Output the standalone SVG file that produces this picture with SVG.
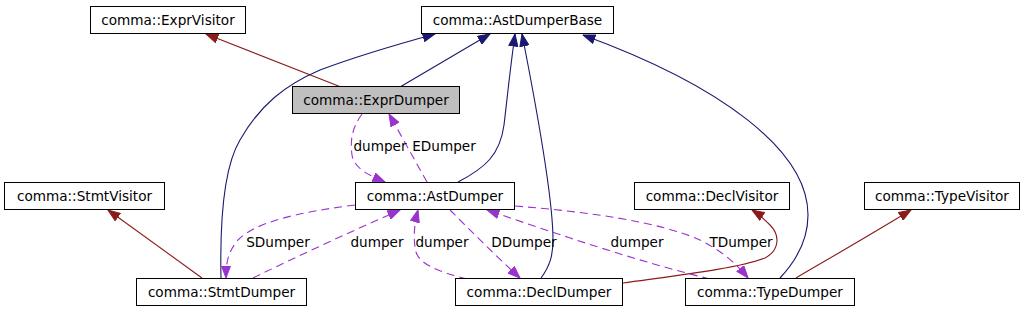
<svg xmlns="http://www.w3.org/2000/svg" width="1024" height="312" viewBox="0 0 1024 312">
<style>
.node rect{fill:#ffffff;stroke:#000000;stroke-width:1}
.node.cur rect{fill:#bfbfbf}
text{font-family:"DejaVu Sans","Liberation Sans",sans-serif;font-size:13.6px;fill:#000000;text-anchor:middle}
.e{fill:none;stroke-width:1.1}
.pub{stroke:#191970;marker-end:url(#aPub)}
.prv{stroke:#8b1a1a;marker-end:url(#aPrv)}
.use{stroke:#9a32cd;stroke-dasharray:8,5;marker-end:url(#aUse)}
</style>
<defs>
<marker id="aPub" markerUnits="userSpaceOnUse" markerWidth="13" markerHeight="10" viewBox="0 0 13 10" refX="12.5" refY="5" orient="auto"><path d="M0.5,0.5 L12.5,5 L0.5,9.5 z" fill="#191970" stroke="#191970"/></marker>
<marker id="aPrv" markerUnits="userSpaceOnUse" markerWidth="13" markerHeight="10" viewBox="0 0 13 10" refX="12.5" refY="5" orient="auto"><path d="M0.5,0.5 L12.5,5 L0.5,9.5 z" fill="#8b1a1a" stroke="#8b1a1a"/></marker>
<marker id="aUse" markerUnits="userSpaceOnUse" markerWidth="13" markerHeight="10" viewBox="0 0 13 10" refX="12.5" refY="5" orient="auto"><path d="M0.5,0.5 L12.5,5 L0.5,9.5 z" fill="#9a32cd" stroke="#9a32cd"/></marker>
</defs>
<rect width="1024" height="312" fill="#ffffff"/>
<g id="edges">
<path class="e prv" d="M341,87 L206,34"/>
<path class="e pub" d="M400,87 L490,34"/>
<path class="e pub" d="M221,278 C220,230 222,170 240,140 C260,105 285,85 320,70 C360,55 395,45 435,34"/>
<path class="e pub" d="M458,182 C485,168 500,155 504,125 C507,100 510,70 515,34"/>
<path class="e pub" d="M541,278 C550,266 553,255 553,240 C553,200 537,110 522,34"/>
<path class="e pub" d="M780,278 C795,262 808,240 808,215 C808,150 720,85 583,35"/>
<path class="e prv" d="M202,278 L108,210"/>
<path class="e prv" d="M623,283 C680,275 740,268 765,258 C780,250 780,235 770,225 C765,220 760,215 752,210"/>
<path class="e prv" d="M796,278 C830,258 870,235 911,210"/>
<path class="e use" d="M362,114 C352,128 350,140 352,155 C354,168 368,175 385,182"/>
<path class="e use" d="M427,182 L389,114"/>
<path class="e use" d="M355,205 C300,212 255,222 238,240 C228,252 226,262 226,278"/>
<path class="e use" d="M253,278 C300,255 350,232 400,210"/>
<path class="e use" d="M467,279 C440,272 420,265 416,252 C413,240 414,225 418,210"/>
<path class="e use" d="M450,210 C470,230 495,255 520,278"/>
<path class="e use" d="M710,279 C640,262 560,235 487,210"/>
<path class="e use" d="M515,206 C590,212 660,222 700,240 C720,250 735,262 748,278"/>
<text x="380" y="151">dumper</text>
<text x="444" y="151">EDumper</text>
<text x="278" y="247">SDumper</text>
<text x="377" y="247">dumper</text>
<text x="442" y="247">dumper</text>
<text x="524" y="247">DDumper</text>
<text x="637" y="247">dumper</text>
<text x="741" y="247">TDumper</text>
</g>
<g id="ExprVisitor" class="node"><rect x="90.5" y="6.5" width="155" height="27"/><text x="168" y="25">comma::ExprVisitor</text></g>
<g id="AstDumperBase" class="node"><rect x="421.5" y="6.5" width="192" height="27"/><text x="517.5" y="25">comma::AstDumperBase</text></g>
<g id="ExprDumper" class="node cur"><rect x="292.5" y="86.5" width="167" height="27"/><text x="376" y="105">comma::ExprDumper</text></g>
<g id="AstDumper" class="node"><rect x="355.5" y="182.5" width="159" height="27"/><text x="435" y="201">comma::AstDumper</text></g>
<g id="StmtVisitor" class="node"><rect x="4.5" y="182.5" width="160" height="27"/><text x="84.5" y="201">comma::StmtVisitor</text></g>
<g id="DeclVisitor" class="node"><rect x="634.5" y="182.5" width="155" height="27"/><text x="712" y="201">comma::DeclVisitor</text></g>
<g id="TypeVisitor" class="node"><rect x="864.5" y="182.5" width="155" height="27"/><text x="942" y="201">comma::TypeVisitor</text></g>
<g id="StmtDumper" class="node"><rect x="136.5" y="278.5" width="170" height="27"/><text x="221.5" y="297">comma::StmtDumper</text></g>
<g id="DeclDumper" class="node"><rect x="455.5" y="278.5" width="167" height="27"/><text x="539" y="297">comma::DeclDumper</text></g>
<g id="TypeDumper" class="node"><rect x="685.5" y="278.5" width="169" height="27"/><text x="770" y="297">comma::TypeDumper</text></g>
</svg>
